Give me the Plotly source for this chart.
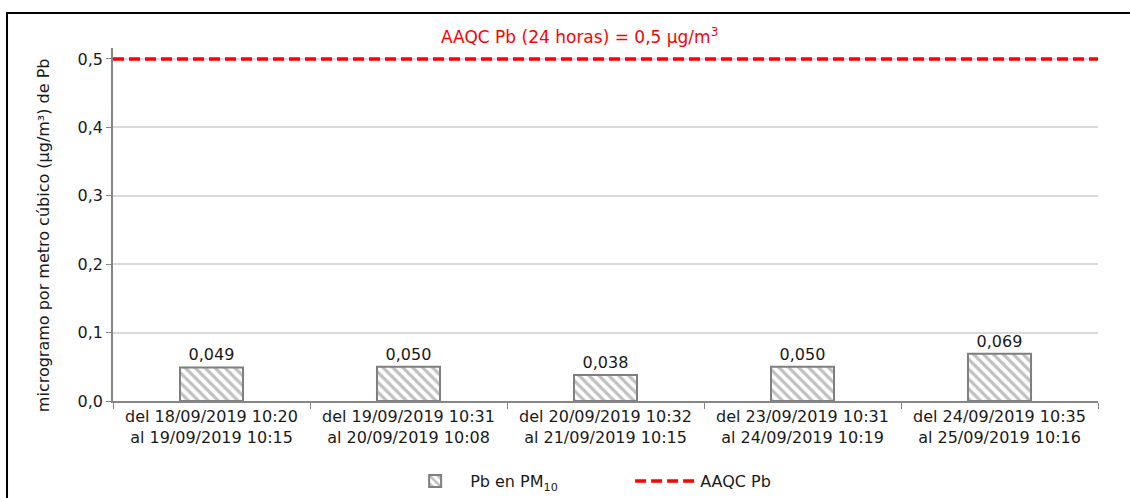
import plotly.graph_objects as go

categories = [
    "del 18/09/2019 10:20<br>al 19/09/2019 10:15",
    "del 19/09/2019 10:31<br>al 20/09/2019 10:08",
    "del 20/09/2019 10:32<br>al 21/09/2019 10:15",
    "del 23/09/2019 10:31<br>al 24/09/2019 10:19",
    "del 24/09/2019 10:35<br>al 25/09/2019 10:16",
]
pb_values = [0.049, 0.050, 0.038, 0.050, 0.069]
aaqc_value = 0.5
y_ticks = [0.0, 0.1, 0.2, 0.3, 0.4, 0.5]

FONT = "DejaVu Sans, Liberation Sans, Arial, sans-serif"
TXT = "#1a1a1a"

fig = go.Figure()
fig.add_trace(go.Bar(
    x=categories, y=pb_values,
    name="Pb en PM<sub>10</sub>",
    width=0.32,
    marker=dict(
        color="white",
        line=dict(color="#7f7f7f", width=2),
        pattern=dict(shape="\\", fgcolor="#7f7f7f", bgcolor="white", size=7, solidity=0.45),
    ),
    texttemplate="%{y:.3f}", textposition="outside",
    textfont=dict(size=16, color=TXT, family=FONT),
    cliponaxis=False,
))
fig.add_trace(go.Scatter(
    x=[None], y=[None], mode="lines", name="AAQC Pb",
    line=dict(color="#ff0000", width=3.5, dash="11px,5px"),
))
fig.add_shape(type="line", xref="paper", x0=0, x1=1, yref="y", y0=aaqc_value, y1=aaqc_value,
              line=dict(color="#ff0000", width=3.5, dash="11px,5px"), layer="above")
fig.add_annotation(xref="paper", x=0.474, yref="paper", y=1.035, yanchor="middle",
                   text="AAQC Pb (24 horas) = 0,5 µg/m<sup>3</sup>", showarrow=False,
                   font=dict(size=17, color="#ff0000", family=FONT))
# y-axis title as rotated annotation
fig.add_annotation(xref="paper", x=-0.071, yref="paper", y=0.47, xanchor="center", yanchor="middle",
                   text="microgramo por metro cúbico (µg/m³) de Pb", textangle=-90, showarrow=False,
                   font=dict(size=16, color=TXT, family=FONT))
# outer border
fig.add_shape(type="rect", xref="paper", yref="paper", x0=-0.1076, x1=1.04, y0=-0.30, y1=1.099,
              line=dict(color="#000000", width=2), layer="below")

fig.update_layout(
    width=1130, height=498,
    margin=dict(l=113, r=32, t=48, b=97, autoexpand=False),
    paper_bgcolor="white", plot_bgcolor="white",
    separators=",.",
    font=dict(family=FONT, color=TXT, size=16),
    bargap=0.68,
    showlegend=True,
    legend=dict(orientation="h", x=0.525, xanchor="center", y=-0.227, yanchor="middle",
                font=dict(size=16, color=TXT), traceorder="normal",
                itemwidth=60, entrywidth=155, entrywidthmode="pixels"),
    xaxis=dict(
        type="category", showline=True, linecolor="#868686", linewidth=1.5,
        ticks="outside", tickson="boundaries", ticklen=6, tickcolor="#868686",
        tickfont=dict(size=16, color=TXT), showgrid=False, automargin=False,
    ),
    yaxis=dict(
        range=[0, 0.516], tickvals=y_ticks, tickformat=".1f",
        showline=True, linecolor="#868686", linewidth=1.5,
        ticks="outside", ticklen=5, tickcolor="#868686",
        showgrid=True, gridcolor="#d9d9d9", gridwidth=1.5, zeroline=False,
        tickfont=dict(size=16, color=TXT), automargin=False,
    ),
)

fig.write_html("out.html", post_script="document.body.style.margin='0';",
               config={"displayModeBar": False})
